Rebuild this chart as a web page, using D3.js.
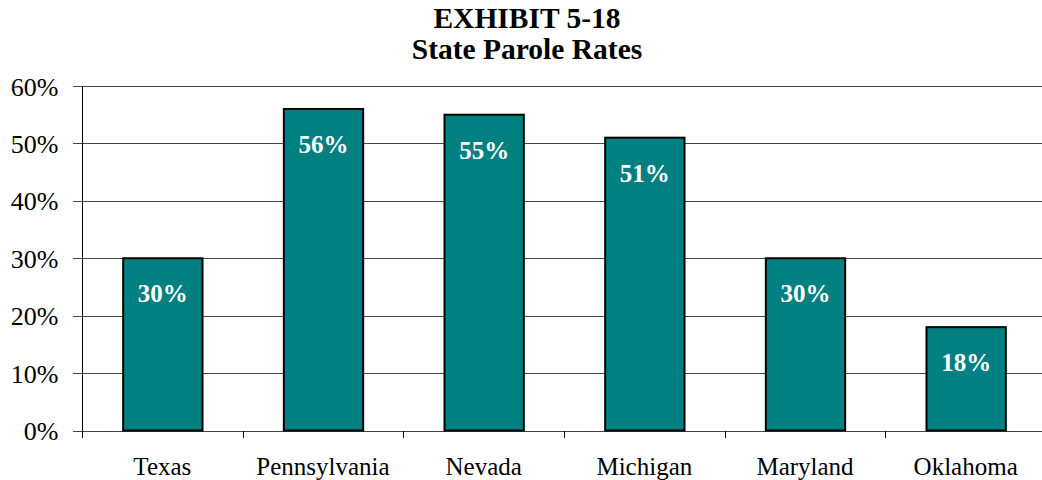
<!DOCTYPE html>
<html><head><meta charset="utf-8">
<script src="https://cdn.jsdelivr.net/npm/d3@7"></script>
<style>body{margin:0;background:#fff;} svg{display:block;}</style>
</head><body>
<script>
const categories = ["Texas","Pennsylvania","Nevada","Michigan","Maryland","Oklahoma"];
const values = [30,56,55,51,30,18];
const yTicks = [0,10,20,30,40,50,60];
const titleLines = ["EXHIBIT 5-18","State Parole Rates"];

const W = 1042, H = 480;
const svg = d3.select("body").append("svg").attr("width",W).attr("height",H);
const font = "'Liberation Serif','Times New Roman',serif";

const x = d3.scaleBand().domain(categories).range([82,1046]).paddingInner(0.5).paddingOuter(0.25);
const y = d3.scaleLinear().domain([0,60]).range([430.5,86]);

// title
svg.selectAll("text.title").data(titleLines).enter().append("text")
  .attr("x",527).attr("y",(d,i)=>28+i*31)
  .attr("text-anchor","middle").attr("font-family",font).attr("font-weight","bold")
  .attr("font-size",29.5).attr("fill","#000").text(d=>d);

// gridlines
svg.append("g").selectAll("line").data(yTicks).enter().append("line")
  .attr("x1",73).attr("x2",1046)
  .attr("y1",d=>Math.round(y(d))+0.5).attr("y2",d=>Math.round(y(d))+0.5)
  .attr("stroke","#444").attr("stroke-width",1);

// y axis
const yAxis = d3.axisLeft(y).tickValues(yTicks).tickFormat(d=>d+"%").tickSize(0).tickPadding(0);
const gy = svg.append("g").attr("transform","translate(82.5,0)").call(yAxis);
gy.select(".domain").remove();
gy.selectAll("text").attr("x",-24).attr("dy","0.35em").attr("font-family",font).attr("font-size",26).attr("fill","#000");
svg.append("line").attr("x1",82.5).attr("x2",82.5).attr("y1",86).attr("y2",431).attr("stroke","#000").attr("stroke-width",1);

// x axis ticks (band boundaries)
const bounds = d3.range(categories.length+1).map(i=>82+i*x.step());
svg.append("g").selectAll("line").data(bounds).enter().append("line")
  .attr("x1",d=>Math.round(d)+0.5).attr("x2",d=>Math.round(d)+0.5)
  .attr("y1",431).attr("y2",438).attr("stroke","#000");

// x labels
const xAxis = d3.axisBottom(x).tickSize(0).tickPadding(0);
const gx = svg.append("g").attr("transform","translate(0,431)").call(xAxis);
gx.select(".domain").remove();
gx.selectAll("text").attr("y",44).attr("dy",0).attr("font-family",font).attr("font-size",25).attr("fill","#000");

// bars
svg.append("g").selectAll("rect").data(values).enter().append("rect")
  .attr("x",(d,i)=>x(categories[i])+1)
  .attr("y",d=>y(d))
  .attr("width",x.bandwidth()-1)
  .attr("height",d=>y(0)-y(d))
  .attr("fill","#008080").attr("stroke","#000").attr("stroke-width",2);

// value labels
svg.append("g").selectAll("text").data(values).enter().append("text")
  .attr("x",(d,i)=>x(categories[i])+x.bandwidth()/2+0.5)
  .attr("y",d=>y(d)+44)
  .attr("text-anchor","middle").attr("font-family",font).attr("font-weight","bold")
  .attr("font-size",25).attr("fill","#fff").text(d=>d+"%");
</script>
</body></html>
